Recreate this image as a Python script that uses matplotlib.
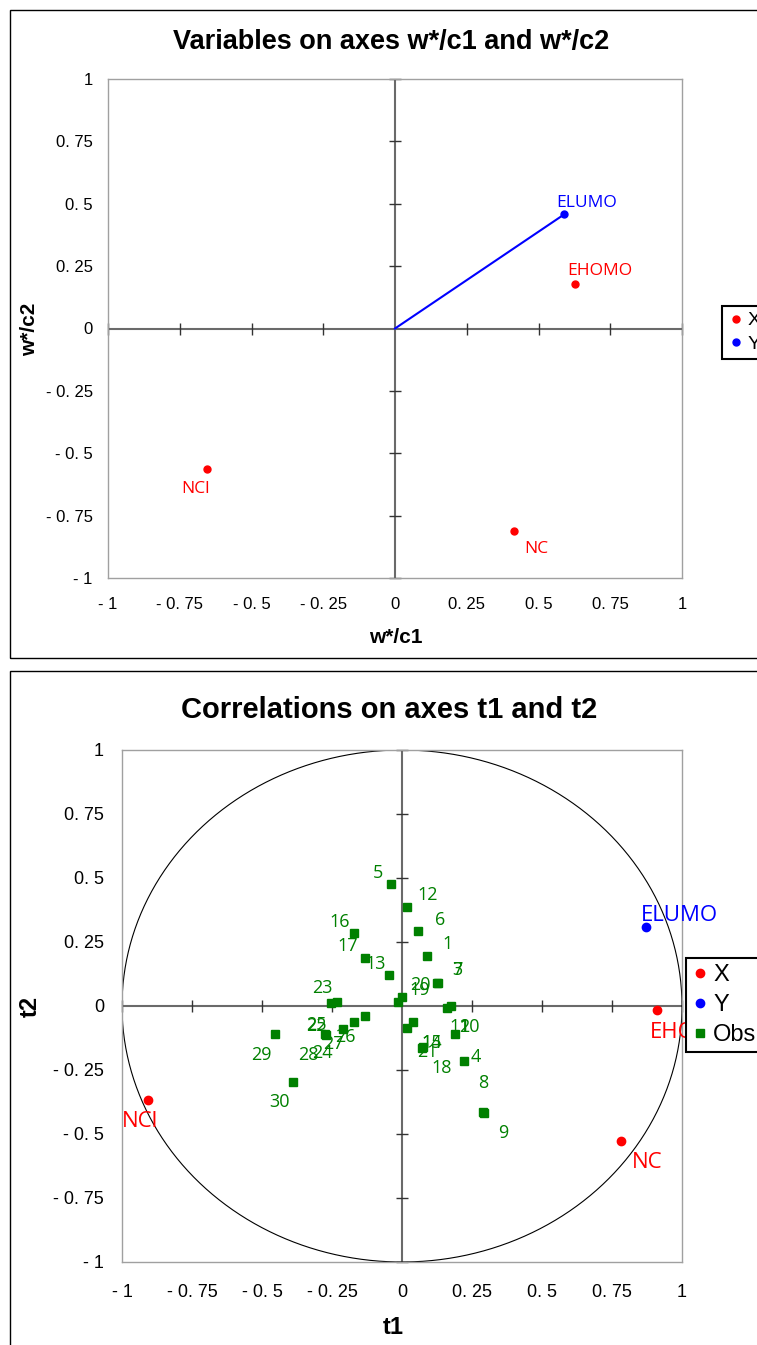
import numpy as np
import matplotlib
matplotlib.use("Agg")
import matplotlib.pyplot as plt
from matplotlib.lines import Line2D
from matplotlib.patches import Rectangle

plt.rcParams['font.family'] = ['Liberation Sans Narrow', 'DejaVu Sans Condensed', 'Liberation Sans', 'DejaVu Sans']

# variables on the w*/c plane
x_names = ["NCl", "NC", "EHOMO"]
x_w1 = [-0.655, 0.415, 0.627]
x_w2 = [-0.565, -0.81, 0.18]
y_names = ["ELUMO"]
y_w1 = [0.589]
y_w2 = [0.457]

# correlations on t1/t2
x_t1 = [-0.907, 0.782, 0.911]
x_t2 = [-0.367, -0.527, -0.016]
y_t1 = [0.871]
y_t2 = [0.309]

obs_names = [str(i) for i in range(1, 31)]
obs_t1 = [0.089, 0.189, 0.125, 0.221, -0.039, 0.057, 0.129, 0.289, 0.293, 0.175,
          0.161, 0.018, -0.046, 0.071, 0.039, -0.171, -0.132, 0.075, -0.014, 0.0,
          0.018, -0.275, -0.232, -0.211, -0.254, -0.132, -0.171, -0.271, -0.454, -0.389]
obs_t2 = [0.195, -0.109, 0.090, -0.215, 0.477, 0.293, 0.090, -0.414, -0.418, 0.000,
          -0.008, 0.387, 0.121, -0.164, -0.063, 0.285, 0.188, -0.160, 0.016, 0.035,
          -0.086, -0.109, 0.016, -0.090, 0.012, -0.039, -0.063, -0.113, -0.109, -0.297]

ticks = [-1, -0.75, -0.5, -0.25, 0, 0.25, 0.5, 0.75, 1]
tick_labels = ["- 1", "- 0. 75", "- 0. 5", "- 0. 25", "0", "0. 25", "0. 5", "0. 75", "1"]

# label offsets in pixels (dx, dy)
top_x_off = [(-11, -20), (22, -18), (-8, 13)]
top_y_off = [(-8, 11)]
bot_x_off = [(-8, -22), (26, -22), (-7, -22)]
bot_y_off = [(-5, 11)]
obs_off = [(21, 12), (9, 7), (20, 13), (12, 4), (-13, 11), (22, 11), (19, 13), (0, 29), (19, -20), (19, -21),
           (13, -19), (21, 12), (-13, 11), (10, 5), (19, -21), (-14, 11), (-17, 12), (19, -21), (22, 12), (18, 12),
           (20, -24), (-9, 8), (-15, 14), (-20, -24), (-15, -22), (-20, -21), (-21, -22), (-18, -20), (-14, -21), (-14, -20)]

W, H = 757, 1345
fig = plt.figure(figsize=(W / 100, H / 100), dpi=100)


def fbox(x0, y0, x1, y1):
    return [x0 / W, 1 - y1 / H, (x1 - x0) / W, (y1 - y0) / H]


def setup(ax, pad_x, pad_y, fs):
    ax.set_xlim(-1, 1)
    ax.set_ylim(-1, 1)
    ax.set_xticks(ticks)
    ax.set_yticks(ticks)
    ax.set_xticklabels(tick_labels, fontsize=fs)
    ax.set_yticklabels(tick_labels, fontsize=fs)
    ax.tick_params(axis='x', length=0, pad=pad_x)
    ax.tick_params(axis='y', length=0, pad=pad_y)
    for s in ax.spines.values():
        s.set_color('#a0a0a0')
        s.set_linewidth(1)
    ax.axhline(0, color='#6a6a6a', lw=1.5, zorder=1)
    ax.axvline(0, color='#6a6a6a', lw=1.5, zorder=1)
    tk = [t for t in ticks if t != 0]
    ax.plot(tk, np.zeros(len(tk)), ls='none', marker='|', ms=8, mew=1, color='#333333', clip_on=False, zorder=1)
    ax.plot(np.zeros(len(tk)), tk, ls='none', marker='_', ms=8, mew=1, color='#333333', clip_on=False, zorder=1)


# panel frames
fig.add_artist(Rectangle((10 / W, 1 - 658 / H), 1, (658 - 10) / H, transform=fig.transFigure,
                         fill=False, ec='black', lw=1))
fig.add_artist(Rectangle((10 / W, -0.1), 1, (1345 - 671) / H + 0.1, transform=fig.transFigure,
                         fill=False, ec='black', lw=1))

# ---- top: variables on w*/c1, w*/c2
ax1 = fig.add_axes(fbox(108, 79, 682, 578))
setup(ax1, 14, 11, 12)
ax1.plot([0, y_w1[0]], [0, y_w2[0]], color='blue', lw=1.5, zorder=2)
ax1.plot(x_w1, x_w2, 'o', color='red', ms=5, zorder=3)
ax1.plot(y_w1, y_w2, 'o', color='blue', ms=5, zorder=3)
for n, a, b, (dx, dy) in zip(x_names, x_w1, x_w2, top_x_off):
    ha = 'left' if n == "EHOMO" else 'center'
    ax1.annotate(n, (a, b), xytext=(dx, dy), textcoords='offset pixels', color='red',
                 fontsize=12.5, ha=ha, va='center', family=['Open Sans', 'DejaVu Sans'])
for n, a, b, (dx, dy) in zip(y_names, y_w1, y_w2, top_y_off):
    ax1.annotate(n, (a, b), xytext=(dx, dy), textcoords='offset pixels', color='blue',
                 fontsize=12.5, ha='left', va='center', family=['Open Sans', 'DejaVu Sans'])

fig.text(391 / W, 1 - 42 / H, "Variables on axes w*/c1 and w*/c2", ha='center', va='center',
         fontsize=19.5, weight='bold')
fig.text(396 / W, 1 - 638 / H, "w*/c1", ha='center', va='center', fontsize=15, weight='bold')
fig.text(30 / W, 1 - 329 / H, "w*/c2", ha='center', va='center', fontsize=15, weight='bold', rotation=90)

h1 = [Line2D([], [], ls='none', marker='o', color='red', ms=5),
      Line2D([], [], ls='none', marker='o', color='blue', ms=5)]
leg1 = fig.legend(h1, ["X", "Y"], loc='upper left', bbox_to_anchor=(722 / W, 1 - 306 / H),
                  fontsize=14, fancybox=False, edgecolor='black', framealpha=1,
                  borderpad=0.3, handletextpad=0.2, labelspacing=0.3, handlelength=0.8, borderaxespad=0)
leg1.get_frame().set_linewidth(1.5)

# ---- bottom: correlations on t1, t2
ax2 = fig.add_axes(fbox(122, 750, 682, 1262))
setup(ax2, 16, 13, 13)
th = np.linspace(0, 2 * np.pi, 400)
ax2.plot(np.cos(th), np.sin(th), color='black', lw=0.8, zorder=2)
ax2.plot(obs_t1, obs_t2, 's', color='#008000', ms=6, zorder=3)
ax2.plot(x_t1, x_t2, 'o', color='red', ms=6, zorder=3)
ax2.plot(y_t1, y_t2, 'o', color='blue', ms=6, zorder=3)
for n, a, b, (dx, dy) in zip(obs_names, obs_t1, obs_t2, obs_off):
    ax2.annotate(n, (a, b), xytext=(dx, dy), textcoords='offset pixels', color='#008000',
                 fontsize=13, ha='center', va='center', family=['Open Sans', 'DejaVu Sans'])
for n, a, b, (dx, dy) in zip(x_names, x_t1, x_t2, bot_x_off):
    ha = 'left' if n == "EHOMO" else 'center'
    ax2.annotate(n, (a, b), xytext=(dx, dy), textcoords='offset pixels', color='red',
                 fontsize=16, ha=ha, va='center', family=['Open Sans', 'DejaVu Sans'])
for n, a, b, (dx, dy) in zip(y_names, y_t1, y_t2, bot_y_off):
    ax2.annotate(n, (a, b), xytext=(dx, dy), textcoords='offset pixels', color='blue',
                 fontsize=16, ha='left', va='center', family=['Open Sans', 'DejaVu Sans'])

fig.text(389 / W, 1 - 710 / H, "Correlations on axes t1 and t2", ha='center', va='center',
         fontsize=21, weight='bold')
fig.text(393 / W, 1 - 1328 / H, "t1", ha='center', va='center', fontsize=17, weight='bold')
fig.text(30 / W, 1 - 1006 / H, "t2", ha='center', va='center', fontsize=17, weight='bold', rotation=90)

h2 = [Line2D([], [], ls='none', marker='o', color='red', ms=6),
      Line2D([], [], ls='none', marker='o', color='blue', ms=6),
      Line2D([], [], ls='none', marker='s', color='#008000', ms=6)]
leg2 = fig.legend(h2, ["X", "Y", "Obs"], loc='upper left', bbox_to_anchor=(686 / W, 1 - 958 / H),
                  fontsize=17, fancybox=False, edgecolor='black', framealpha=1,
                  borderpad=0.25, handletextpad=0.2, labelspacing=0.35, handlelength=0.7, borderaxespad=0)
leg2.get_frame().set_linewidth(1.5)

fig.savefig("out.png", dpi=100)
